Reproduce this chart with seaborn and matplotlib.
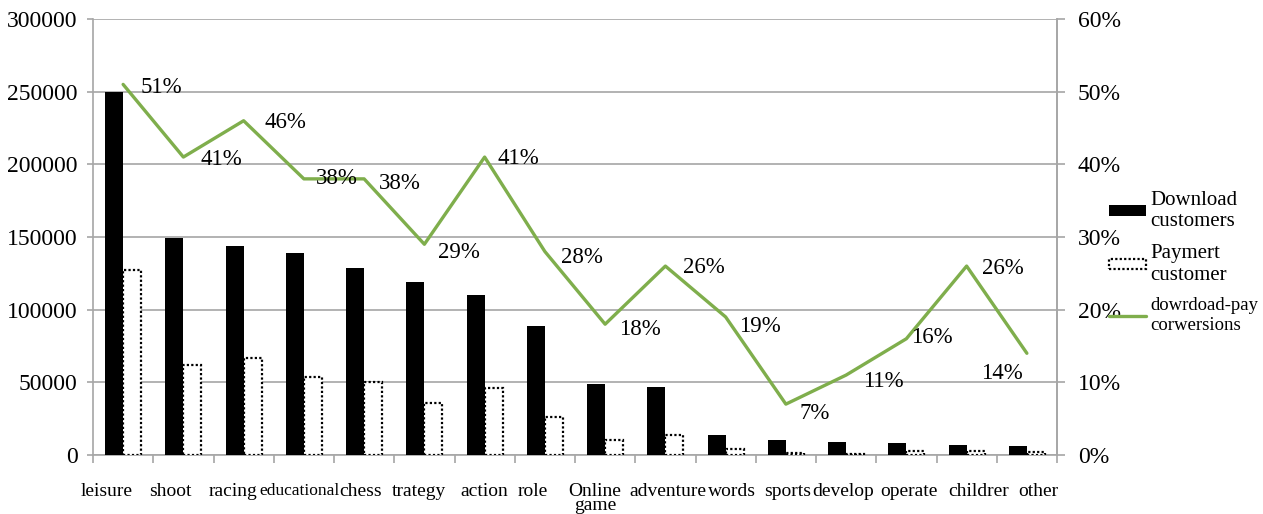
import matplotlib
matplotlib.use("Agg")
import matplotlib.pyplot as plt
import matplotlib.transforms as mtransforms
import seaborn as sns
import pandas as pd
from matplotlib.patches import Patch
from matplotlib.lines import Line2D
from matplotlib.ticker import FuncFormatter, MultipleLocator

# ---- data -------------------------------------------------------------
categories = ["leisure", "shoot", "racing", "educational", "chess", "trategy",
              "action", "role", "Online\ngame", "adventure", "words", "sports",
              "develop", "operate", "childrer", "other"]
download_customers = [250000, 149000, 144000, 139000, 129000, 119000, 110000, 89000,
                      49000, 47000, 14000, 10000, 9000, 8000, 7000, 6000]
payment_customers = [127000, 62000, 67000, 54000, 50000, 36000, 46000, 26000,
                     10000, 14000, 4000, 1500, 1000, 3000, 3000, 2000]
conversion_pct = [51, 41, 46, 38, 38, 29, 41, 28, 18, 26, 19, 7, 11, 16, 26, 14]

series_names = ["Download\ncustomers", "Paymert\ncustomer"]
line_name = "dowrdoad-pay\ncorwersions"

# label placement around each line vertex (pixels: right, down)
label_offsets = [(38, 3), (38, 2), (42, 2), (33, 0), (36, 5), (35, 8), (34, 1),
                 (37, 6), (35, 5), (38, 1), (34, 10), (29, 9), (37, 6), (25, -1),
                 (36, 2), (-25, 20)]
# horizontal nudges of the category names (pixels)
xlabel_shift = [-16, -13, -11, -4, -4, -5, 0, -12, -10, 3, 6, 2, -3, 3, 12, 11]

# ---- styling ----------------------------------------------------------
sns.set_theme(style="white")
plt.rcParams["font.family"] = ["Liberation Serif", "DejaVu Serif"]
GRID = "#a6a6a6"
GREEN = "#7fae4c"

bars = pd.DataFrame({
    "category": categories * 2,
    "series": [series_names[0]] * len(categories) + [series_names[1]] * len(categories),
    "value": download_customers + payment_customers,
})

fig = plt.figure(figsize=(12.63, 5.14), dpi=100)
ax = fig.add_axes([93 / 1263, 1 - 455 / 514, (1057 - 93) / 1263, (455 - 19) / 514])

sns.barplot(data=bars, x="category", y="value", hue="series", order=categories,
            hue_order=series_names, palette=["black", "white"], width=0.6,
            saturation=1, legend=False, ax=ax, zorder=3)

n = len(categories)
for i, p in enumerate(ax.patches[:2 * n]):
    if i < n:
        p.set_facecolor("black")
        p.set_edgecolor("none")
    else:
        p.set_facecolor("white")
        p.set_edgecolor("black")
        p.set_linewidth(1.6)
        p.set_linestyle((0, (1, 1)))

ax.set_ylim(0, 300000)
ax.set_xlim(-0.5, n - 0.5)
ax.yaxis.set_major_locator(MultipleLocator(50000))
ax.grid(axis="y", color=GRID, linewidth=1.2, zorder=0)
ax.set_axisbelow(True)
ax.set_xlabel("")
ax.set_ylabel("")

for side in ("left", "right", "bottom"):
    ax.spines[side].set_color(GRID)
    ax.spines[side].set_linewidth(1.2)
ax.spines["top"].set_visible(False)

ax.tick_params(axis="y", left=True, length=4, width=1.2, color=GRID, pad=7,
               labelsize=17, labelcolor="black")
ax.set_xticks(range(n))
ax.set_xticks([i + 0.5 for i in range(-1, n)], minor=True)
ax.tick_params(axis="x", which="major", length=0, pad=20, labelsize=14,
               labelcolor="black")
ax.tick_params(axis="x", which="minor", bottom=True, length=6, width=1.2, color=GRID)

for lbl, shift in zip(ax.get_xticklabels(), xlabel_shift):
    lbl.set_linespacing(0.75)
    if lbl.get_text() == "educational":
        lbl.set_fontsize(12.5)
    lbl.set_transform(lbl.get_transform() +
                      mtransforms.ScaledTranslation(shift / 100, 0, fig.dpi_scale_trans))

# ---- conversion line on the secondary axis ----------------------------
ax2 = ax.twinx()
line_df = pd.DataFrame({"category": categories,
                        "rate": [v / 100 for v in conversion_pct]})
sns.lineplot(data=line_df, x="category", y="rate", sort=False, color=GREEN,
             linewidth=2.4, ax=ax2, zorder=4)
ax2.set_ylim(0, 0.6)
ax2.set_xlim(-0.5, n - 0.5)
ax2.yaxis.set_major_locator(MultipleLocator(0.1))
ax2.yaxis.set_major_formatter(FuncFormatter(lambda v, _: f"{v * 100:.0f}%"))
ax2.set_ylabel("")
ax2.set_xlabel("")
ax2.grid(False)
for side in ("left", "top", "bottom"):
    ax2.spines[side].set_visible(False)
ax2.spines["right"].set_color(GRID)
ax2.spines["right"].set_linewidth(1.2)
ax2.tick_params(axis="y", right=True, length=6, width=1.2, color=GRID, pad=9,
                labelsize=17, labelcolor="black")

for i, (pct, (dx, dy)) in enumerate(zip(conversion_pct, label_offsets)):
    ax2.annotate(f"{pct}%", xy=(i, pct / 100), xytext=(dx, -dy),
                 textcoords="offset pixels", ha="center", va="center",
                 fontsize=16.5, color="black", zorder=5)

# ---- legend -----------------------------------------------------------
handles = [
    Patch(facecolor="black", edgecolor="none", label=series_names[0]),
    Patch(facecolor="white", edgecolor="black", linewidth=1.6,
          linestyle=(0, (1, 1)), label=series_names[1]),
    Line2D([], [], color=GREEN, linewidth=2.4, label=line_name),
]
leg = fig.legend(handles=handles, loc="center left",
                 bbox_to_anchor=(1090 / 1263, 0.49), frameon=False, fontsize=15,
                 labelcolor="black", handlelength=1.8, handleheight=0.38,
                 handletextpad=0.2, labelspacing=0.6)
leg.get_texts()[2].set_fontsize(13.5)

fig.savefig("out.png", dpi=100)
